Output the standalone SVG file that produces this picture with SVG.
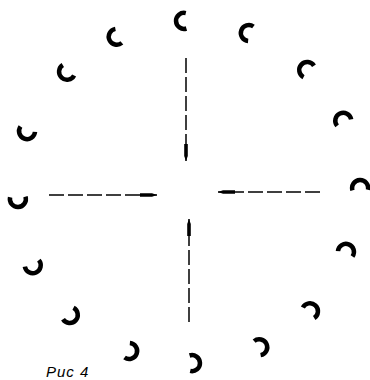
<svg xmlns="http://www.w3.org/2000/svg" width="370" height="380" viewBox="0 0 370 380">
  <style>
    .arc { fill: none; stroke: #000; stroke-width: 4.5; stroke-linecap: butt; }
    .conn { fill: none; stroke: #000; stroke-width: 1.5; stroke-dasharray: 15 4; }
    .lbl { font-family: "Liberation Sans", Arial, sans-serif; font-style: italic; font-size: 15px; fill: #000; letter-spacing: 1px; }
  </style>
  <defs>
    <path id="c" class="arc" d="M5.1,-7.73 A8,8 0 1 0 5.1,7.73"/>
    <marker id="ah" viewBox="0 0 17 6" refX="17" refY="3" markerWidth="17" markerHeight="6" markerUnits="userSpaceOnUse" orient="auto">
      <path d="M0,1.2 L12,1.2 L17,3 L12,4.8 L0,4.8 z" fill="#000"/>
    </marker>
  </defs>
  <rect width="370" height="380" fill="#fff"/>
  <g id="arcs">
    <g id="n1"><use href="#c" transform="translate(181,21) rotate(-2.3)"/></g>
    <g id="n2"><use href="#c" transform="translate(246,32) rotate(20.2)"/></g>
    <g id="n3"><use href="#c" transform="translate(305,68) rotate(42.7)"/></g>
    <g id="n4"><use href="#c" transform="translate(342,118) rotate(65.2)"/></g>
    <g id="n5"><use href="#c" transform="translate(360,185) rotate(87.7)"/></g>
    <g id="n6"><use href="#c" transform="translate(347,249) rotate(110.2)"/></g>
    <g id="n7"><use href="#c" transform="translate(312,309) rotate(132.7)"/></g>
    <g id="n8"><use href="#c" transform="translate(262,346) rotate(155.2)"/></g>
    <g id="n9"><use href="#c" transform="translate(195,363) rotate(177.7)"/></g>
    <g id="n10"><use href="#c" transform="translate(132,352) rotate(200.2)"/></g>
    <g id="n11"><use href="#c" transform="translate(72,317) rotate(222.7)"/></g>
    <g id="n12"><use href="#c" transform="translate(34,268) rotate(245.2)"/></g>
    <g id="n13"><use href="#c" transform="translate(18,202) rotate(267.7)"/></g>
    <g id="n14"><use href="#c" transform="translate(26,134) rotate(290.2)"/></g>
    <g id="n15"><use href="#c" transform="translate(65,74) rotate(312.7)"/></g>
    <g id="n16"><use href="#c" transform="translate(114,38) rotate(335.2)"/></g>
  </g>
  <g id="connectors">
    <path class="conn" d="M186,58 L186,161" marker-end="url(#ah)"/>
    <path class="conn" d="M49,195 L157,195" marker-end="url(#ah)"/>
    <path class="conn" d="M320,192 L218,192" marker-end="url(#ah)"/>
    <path class="conn" d="M189,322 L189,219" marker-end="url(#ah)"/>
  </g>
  <g id="caption">
    <text class="lbl" x="46" y="377">Рис 4</text>
  </g>
</svg>
